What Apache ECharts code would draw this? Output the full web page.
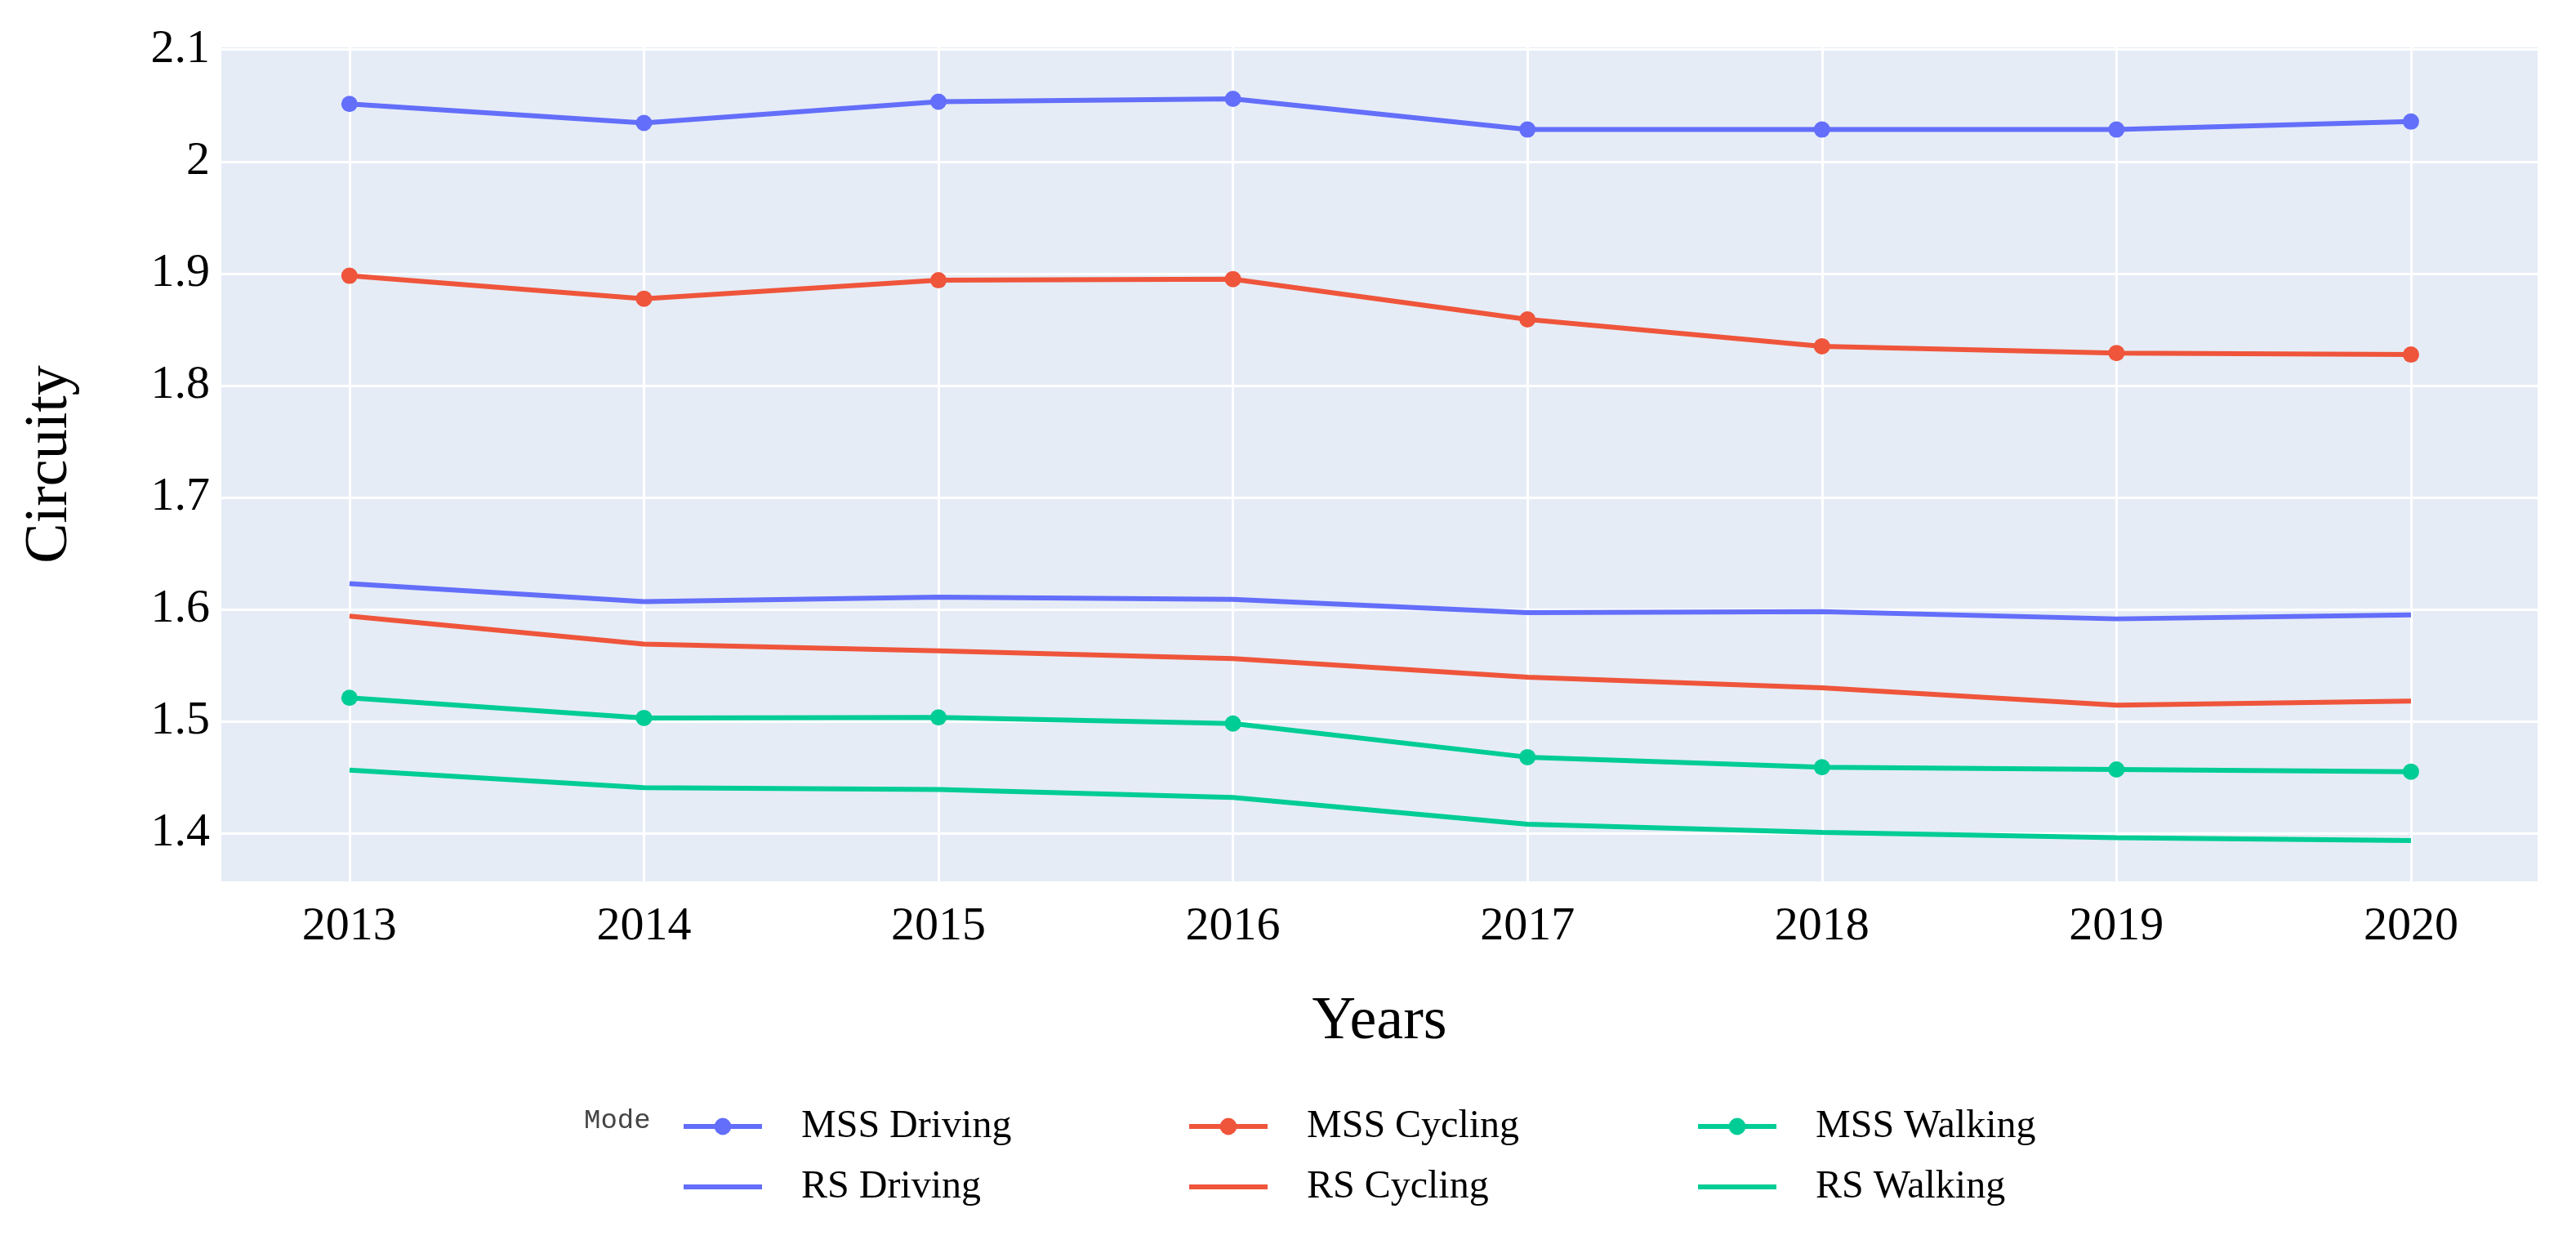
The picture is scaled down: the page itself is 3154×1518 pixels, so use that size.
<!DOCTYPE html>
<html>
<head>
<meta charset="utf-8">
<script src="https://cdn.jsdelivr.net/npm/echarts@6/dist/echarts.min.js"></script>
<style>
html,body{margin:0;padding:0;background:#fff;}
#chart{width:3154px;height:1518px;}
</style>
</head>
<body>
<div id="chart"></div>
<script>
const years = [2013, 2014, 2015, 2016, 2017, 2018, 2019, 2020];
const yTicks = [1.4, 1.5, 1.6, 1.7, 1.8, 1.9, 2, 2.1];
const mssDriving = [2.0515, 2.0345, 2.0535, 2.056, 2.0286, 2.0286, 2.0286, 2.0357];
const mssCycling = [1.898, 1.8775, 1.894, 1.895, 1.859, 1.835, 1.829, 1.8276];
const mssWalking = [1.521, 1.503, 1.5035, 1.498, 1.468, 1.459, 1.457, 1.455];
const rsDriving = [1.623, 1.607, 1.611, 1.609, 1.597, 1.598, 1.5915, 1.595];
const rsCycling = [1.594, 1.569, 1.563, 1.556, 1.5395, 1.530, 1.5145, 1.518];
const rsWalking = [1.4565, 1.4407, 1.439, 1.432, 1.408, 1.4007, 1.396, 1.3935];

const BLUE = '#636EFA', RED = '#EF553B', GREEN = '#00CC96';
const serif = '"Liberation Serif", "Times New Roman", serif';
const LINE_ICON = 'path://M0,0 L96,0 L96,6 L0,6 Z';

function pairs(vals) { return years.map((y, i) => [y, vals[i]]); }
function mss(name, vals, color) {
  return { name, type: 'line', data: pairs(vals), symbol: 'circle', symbolSize: 20, showSymbol: true,
    itemStyle: { color }, lineStyle: { color, width: 6 }, z: 3 };
}
function rs(name, vals, color) {
  return { name, type: 'line', data: pairs(vals), symbol: 'none', showSymbol: false,
    itemStyle: { color }, lineStyle: { color, width: 6 }, z: 2 };
}
function legendCol(left, names) {
  return { orient: 'vertical', left, top: 1346, itemWidth: 96, itemHeight: 26, itemGap: 18,
    symbolKeepAspect: true,
    lineStyle: { width: 6 },
    data: [{ name: names[0] }, { name: names[1], icon: LINE_ICON }],
    textStyle: { fontFamily: serif, fontSize: 48, lineHeight: 56, color: '#000', padding: [0, 0, 0, 43] } };
}

const chart = echarts.init(document.getElementById('chart'), null, { renderer: 'canvas' });
chart.setOption({
  backgroundColor: '#fff',
  animation: false,
  title: { text: 'Mode', left: 710, top: 1350,
    textStyle: { fontFamily: '"Liberation Mono", monospace', fontSize: 34, fontWeight: 'normal', color: '#444' } },
  legend: [
    legendCol(829, ['MSS Driving', 'RS Driving']),
    legendCol(1448, ['MSS Cycling', 'RS Cycling']),
    legendCol(2071, ['MSS Walking', 'RS Walking'])
  ],
  grid: { left: 271, right: 47, top: 58, bottom: 439, show: true, backgroundColor: '#E5ECF6', borderWidth: 0 },
  xAxis: {
    type: 'value', min: 2012.565, max: 2020.43,
    name: 'Years', nameLocation: 'middle', nameGap: 136,
    nameTextStyle: { fontFamily: serif, fontSize: 74, color: '#000' },
    axisLine: { show: false },
    axisTick: { show: false, customValues: years },
    axisLabel: { customValues: years, margin: 27, fontFamily: serif, fontSize: 58, color: '#000',
      formatter: v => String(v) },
    splitLine: { show: true, lineStyle: { color: '#fff', width: 3 } }
  },
  yAxis: {
    type: 'value', min: 1.357, max: 2.102,
    name: 'Circuity', nameLocation: 'middle', nameGap: 172, nameRotate: 90,
    nameTextStyle: { fontFamily: serif, fontSize: 74, color: '#000' },
    axisLine: { show: false },
    axisTick: { show: false, customValues: yTicks },
    axisLabel: { customValues: yTicks, margin: 14, fontFamily: serif, fontSize: 58, color: '#000',
      formatter: v => String(Math.round(v * 10) / 10) },
    splitLine: { show: true, lineStyle: { color: '#fff', width: 3 } }
  },
  series: [
    rs('RS Walking', rsWalking, GREEN),
    rs('RS Cycling', rsCycling, RED),
    rs('RS Driving', rsDriving, BLUE),
    mss('MSS Walking', mssWalking, GREEN),
    mss('MSS Cycling', mssCycling, RED),
    mss('MSS Driving', mssDriving, BLUE)
  ]
});
</script>
</body>
</html>
